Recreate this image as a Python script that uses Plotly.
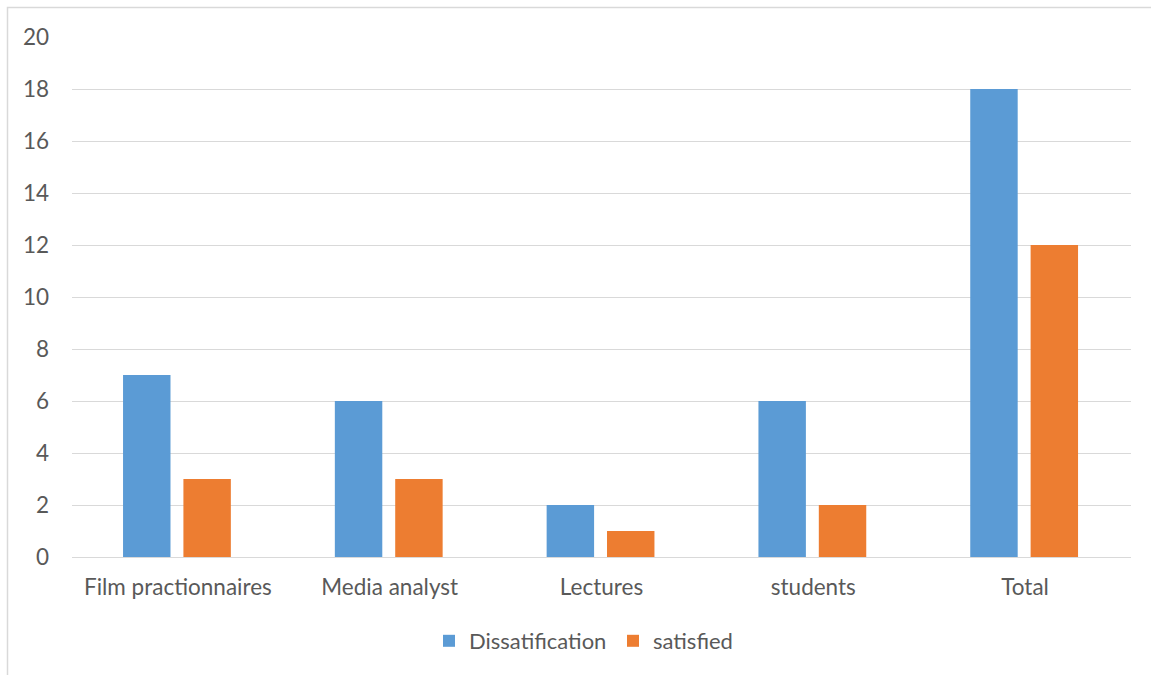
import plotly.graph_objects as go

categories = ["Film practionnaires", "Media analyst", "Lectures", "students", "Total"]
dissatisfaction = [7, 6, 2, 6, 18]
satisfied = [3, 3, 1, 2, 12]
series_names = ["Dissatification", "satisfied"]
y_ticks = list(range(0, 21, 2))

W, H = 1151, 675
L, R, T, B = 72, 20, 37, 118
pw, ph = W - L - R, H - T - B

font_family = "Lato, Open Sans, sans-serif"
fs = 22.5
txt_color = "#595959"
grid_color = "#d9d9d9"

fig = go.Figure()
fig.add_trace(go.Bar(x=categories, y=dissatisfaction, name=series_names[0],
                     marker=dict(color="#5B9BD5", line=dict(width=0)),
                     width=0.224, offset=-0.259))
fig.add_trace(go.Bar(x=categories, y=satisfied, name=series_names[1],
                     marker=dict(color="#ED7D31", line=dict(width=0)),
                     width=0.224, offset=0.026))

def px_x(p):
    return (p - L) / pw

def px_y(p):
    return (H - B - p) / ph

fig.add_shape(type="rect", xref="paper", yref="paper",
              x0=px_x(7.5), x1=px_x(1200), y0=px_y(720), y1=px_y(7.5),
              line=dict(color=grid_color, width=1.5), fillcolor="rgba(0,0,0,0)", layer="below")

fig.update_layout(
    width=W, height=H,
    margin=dict(l=L, r=R, t=T, b=B),
    paper_bgcolor="white", plot_bgcolor="white",
    font=dict(family=font_family, size=fs, color=txt_color),
    barmode="group",
    showlegend=True,
    legend=dict(orientation="h", x=px_x(429), xanchor="left", y=px_y(641), yanchor="middle",
                font=dict(size=22, color=txt_color), itemwidth=30, traceorder="normal",
                entrywidth=139, entrywidthmode="pixels"),
    xaxis=dict(showgrid=False, showline=True, linecolor=grid_color, linewidth=1,
               ticks="", tickfont=dict(size=fs, color=txt_color), ticklabelstandoff=10),
    yaxis=dict(range=[0, 20], tickvals=y_ticks, showgrid=True, gridcolor=grid_color,
               gridwidth=1, zeroline=False, showline=False, ticks="",
               tickfont=dict(size=fs, color=txt_color), ticklabelstandoff=22),
)

fig.write_html("out.html")
